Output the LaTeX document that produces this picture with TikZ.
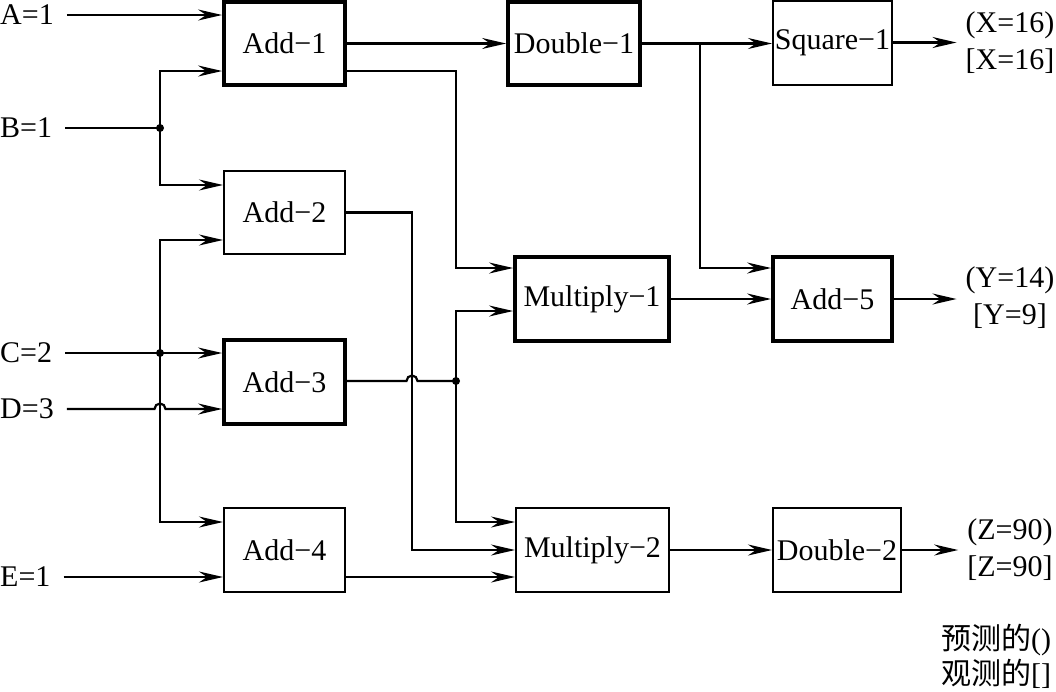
\documentclass[tikz,border=0pt]{standalone}
\usepackage{fontspec}
\setmainfont{Liberation Serif}
\newfontfamily\cjk{Noto Sans CJK SC}
\usetikzlibrary{arrows.meta}
\begin{document}
\begin{tikzpicture}[x=1pt,y=1pt,
  every node/.style={font=\fontsize{30}{37}\selectfont},
  boxthin/.style={draw, line width=2pt, inner sep=0pt},
  boxthick/.style={draw, line width=3.8pt, inner sep=0pt},
  inlbl/.style={anchor=west, inner sep=0pt},
  outlbl/.style={align=center, inner xsep=9pt, inner ysep=0pt},
  wire/.style={line width=2.2pt},
  arr/.style={wire, -{Stealth[length=24pt,width=11pt,inset=8pt]}},
  dotc/.style={circle, fill, inner sep=0pt, minimum size=8pt}
]
\useasboundingbox (0,0) rectangle (1056,-691);

% boxes
\node[boxthick, minimum width=121pt, minimum height=83pt] (add1) at (284.5,-43.5) {Add−1};
\node[boxthin,  minimum width=121pt, minimum height=83pt] (add2) at (284.5,-212.5) {Add−2};
\node[boxthick, minimum width=121pt, minimum height=84pt] (add3) at (284.5,-382) {Add−3};
\node[boxthin,  minimum width=121pt, minimum height=84pt] (add4) at (284.5,-550) {Add−4};
\node[boxthick, minimum width=132pt, minimum height=83pt] (dbl1) at (574,-43.5) {Double−1};
\node[boxthin,  minimum width=119pt, minimum height=84pt] (sq1) at (832.5,-42.5) {Square−1};
\node[boxthick, minimum width=154pt, minimum height=84pt] (mul1) at (592,-299) {Multiply−1};
\node[boxthick, minimum width=119pt, minimum height=84pt] (add5) at (832.5,-299) {Add−5};
\node[boxthin,  minimum width=153pt, minimum height=84pt] (mul2) at (592.5,-550) {Multiply−2};
\node[boxthin,  minimum width=128pt, minimum height=84pt] (dbl2) at (837,-550) {Double−2};

% input labels
\node[inlbl] (A) at (0,-15) {A=1};
\node[inlbl] (B) at (0,-128) {B=1};
\node[inlbl] (C) at (0,-353) {C=2};
\node[inlbl] (D) at (0,-409) {D=3};
\node[inlbl] (E) at (0,-577) {E=1};

% output labels
\node[outlbl] (X) at (1010,-43) {(X=16)\\{}[X=16]};
\node[outlbl] (Y) at (1010,-298) {(Y=14)\\{}[Y=9]};
\node[outlbl] (Z) at (1010,-550) {(Z=90)\\{}[Z=90]};
\node[anchor=west, align=left, inner sep=0pt, font=\fontsize{30}{35}\selectfont] (legend) at (941,-656) {{\cjk 预测的}()\\{\cjk 观测的}{[]}};

% junctions
\coordinate (jb) at (160,-128);
\coordinate (jc) at (160,-353);
\coordinate (j3) at (456,-381);
\coordinate (j1) at (700,-43.5);

% inputs
\draw[arr] ([xshift=13pt]A.east) -- (A.east -| add1.west);
\draw[wire] ([xshift=13pt]B.east) -- (jb);
\draw[arr] (jb) |- (add1.west |- 0,-71);
\draw[arr] (jb) |- (add2.west |- 0,-185);
\draw[wire] ([xshift=13pt]C.east) -- (jc);
\draw[arr] (jc) -- (jc -| add3.west);
\draw[arr] (jc) |- (add2.west |- 0,-240);
\draw[arr] (jc) |- (add4.west |- 0,-522);
\draw[arr] ([xshift=13pt]D.east) -- (154.5,-409) arc[start angle=180, end angle=0, radius=5.5pt] -- (D -| add3.west);
\draw[arr] ([xshift=13pt]E.east) -- (E -| add4.west);
\node[dotc] at (jb) {};
\node[dotc] at (jc) {};

% middle
\draw[arr] (add1.east) -- (dbl1.west);
\draw[arr] (add1.east |- 0,-71) -- (456,-71) -- (456,-268) -- (mul1.west |- 0,-268);
\draw[arr] (add2.east) -- (412,-212.5) -- (412,-550) -- (mul2.west);
\draw[wire] (add3.east |- 0,-381) -- (406.5,-381) arc[start angle=180, end angle=0, radius=5.5pt] -- (j3);
\draw[arr] (j3) |- (mul1.west |- 0,-311);
\draw[arr] (j3) |- (mul2.west |- 0,-522);
\node[dotc] at (j3) {};
\draw[arr] (add4.east |- 0,-577) -- (mul2.west |- 0,-577);

% right side
\draw[arr] (dbl1.east) -- (dbl1.east -| sq1.west);
\draw[arr] (j1) |- (add5.west |- 0,-268);
\draw[arr] (mul1.east) -- (add5.west);
\draw[arr] (mul2.east) -- (dbl2.west);

% outputs
\draw[arr] (sq1.east) -- (sq1.east -| X.west);
\draw[arr] (add5.east) -- (add5.east -| Y.west);
\draw[arr] (dbl2.east) -- (dbl2.east -| Z.west);
\end{tikzpicture}
\end{document}
